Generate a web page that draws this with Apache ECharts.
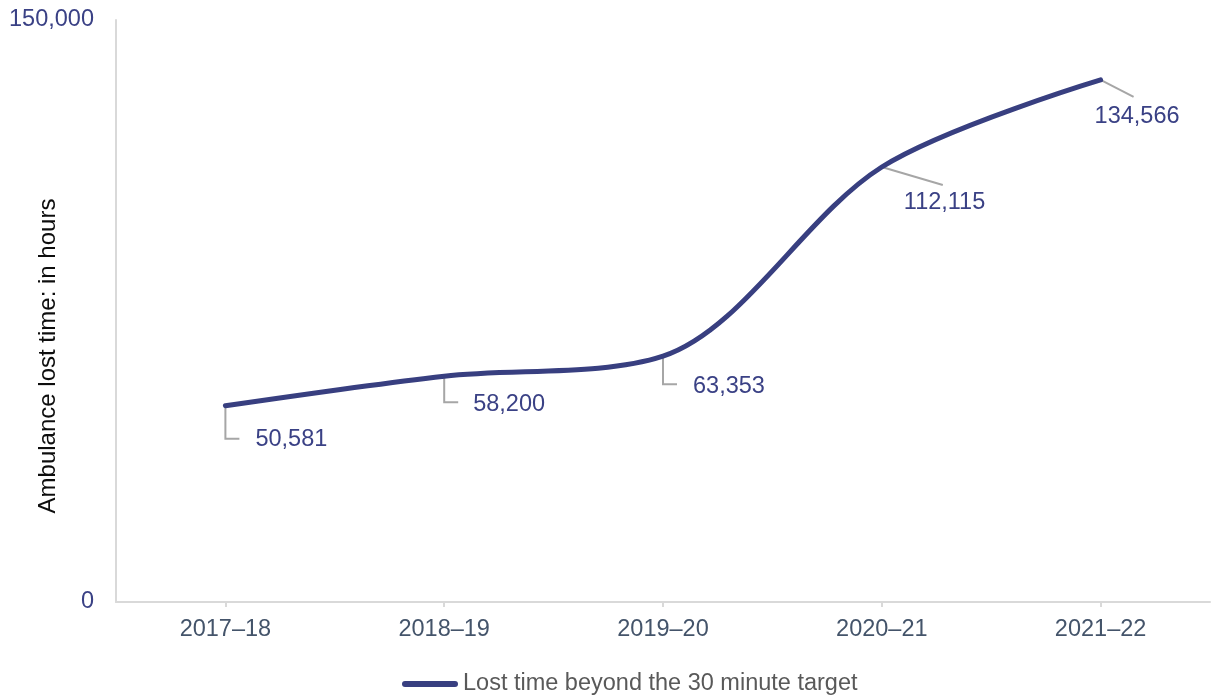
<!DOCTYPE html>
<html>
<head>
<meta charset="utf-8">
<title>Ambulance lost time</title>
<script src="https://cdn.jsdelivr.net/npm/echarts@6/dist/echarts.min.js"></script>
<style>
  html, body { margin: 0; padding: 0; background: #ffffff; }
  #chart { width: 1215px; height: 695px; }
</style>
</head>
<body>
<div id="chart"></div>
<script>
// Financial years shown on the category axis
const years = ['2017\u201318', '2018\u201319', '2019\u201320', '2020\u201321', '2021\u201322'];

// Lost time beyond the 30 minute target, in hours
const lostHours = [50581, 58200, 63353, 112115, 134566];

// Value axis extent and the only tick labels drawn (0 and 150,000)
const yMin = 0;
const yMax = 150000;
const yStep = 150000;

const seriesName = 'Lost time beyond the 30 minute target';

// Placement of each value label relative to its point, with its leader line
// 'elbow' = down then across; 'straight' = single diagonal segment
const labelPlacement = [
  { kind: 'elbow',    downBy: 33, across: 14, textDx: 30, textDy: 34 },
  { kind: 'elbow',    downBy: 26, across: 14, textDx: 29, textDy: 28 },
  { kind: 'elbow',    downBy: 28, across: 14, textDx: 30, textDy: 30 },
  { kind: 'straight', endDx: 61, endDy: 18, textDx: 22, textDy: 36 },
  { kind: 'straight', endDx: 33, endDy: 17, textDx: -6, textDy: 37 }
];

const NAVY = '#383f80';
const LABEL_NAVY = '#3a4185';
const AXIS_GREY = '#d9d9d9';
const LEADER_GREY = '#a6a6a6';
const FONT = '"Liberation Sans", Arial, Helvetica, sans-serif';

function fmt(n) {
  return String(n).replace(/\B(?=(\d{3})+(?!\d))/g, ',');
}

const chart = echarts.init(document.getElementById('chart'), null, { renderer: 'canvas' });

chart.setOption({
  animation: false,
  backgroundColor: '#ffffff',
  textStyle: { fontFamily: FONT },
  grid: { left: 116, right: 5, top: 20, bottom: 93, outerBoundsMode: 'none' },
  legend: {
    data: [seriesName],
    left: 397,
    top: 667,
    itemWidth: 56,
    itemHeight: 6,
    itemGap: 10,
    icon: 'path://M3,0 L53,0 A3,3 0 0 1 53,6 L3,6 A3,3 0 0 1 3,0 Z',
    textStyle: { color: '#595959', fontSize: 23.5, fontFamily: FONT },
    selectedMode: false
  },
  xAxis: {
    type: 'category',
    data: years,
    boundaryGap: true,
    axisLine: { show: true, lineStyle: { color: AXIS_GREY, width: 2 } },
    axisTick: { show: true, alignWithLabel: true, length: 5, lineStyle: { color: AXIS_GREY, width: 2 } },
    axisLabel: { color: '#44546a', fontSize: 23.5, margin: 16, fontFamily: FONT },
    splitLine: { show: false }
  },
  yAxis: {
    type: 'value',
    min: yMin,
    max: yMax,
    interval: yStep,
    name: 'Ambulance lost time: in hours',
    nameLocation: 'middle',
    nameRotate: 90,
    nameGap: 56,
    nameMoveOverlap: false,
    nameTextStyle: { color: '#0d0d0d', fontSize: 24, fontFamily: FONT, padding: [0, 90, 0, 0] },
    axisLine: { show: true, lineStyle: { color: AXIS_GREY, width: 2 } },
    axisTick: { show: false },
    splitLine: { show: false },
    axisLabel: {
      color: LABEL_NAVY,
      fontSize: 23.5,
      margin: 22,
      fontFamily: FONT,
      formatter: function (v) { return fmt(v); }
    }
  },
  series: [
    {
      name: seriesName,
      type: 'line',
      data: lostHours,
      smooth: 0.32,
      showSymbol: false,
      symbol: 'none',
      z: 3,
      lineStyle: { color: NAVY, width: 5, cap: 'round', join: 'round' },
      itemStyle: { color: NAVY }
    },
    {
      name: 'value labels',
      type: 'custom',
      coordinateSystem: 'cartesian2d',
      z: 2,
      clip: false,
      silent: true,
      data: lostHours.map(function (v, i) { return [i, v]; }),
      renderItem: function (params, api) {
        const idx = params.dataIndex;
        const p = api.coord([api.value(0), api.value(1)]);
        const s = labelPlacement[idx];
        let pts;
        if (s.kind === 'elbow') {
          pts = [[p[0], p[1]], [p[0], p[1] + s.downBy], [p[0] + s.across, p[1] + s.downBy]];
        } else {
          pts = [[p[0], p[1]], [p[0] + s.endDx, p[1] + s.endDy]];
        }
        return {
          type: 'group',
          children: [
            {
              type: 'polyline',
              shape: { points: pts },
              style: { stroke: LEADER_GREY, lineWidth: 2, fill: null }
            },
            {
              type: 'text',
              x: p[0] + s.textDx,
              y: p[1] + s.textDy,
              style: {
                text: fmt(api.value(1)),
                fill: LABEL_NAVY,
                font: '23.5px ' + FONT,
                textAlign: 'left',
                textVerticalAlign: 'middle'
              }
            }
          ]
        };
      }
    }
  ]
});
</script>
</body>
</html>
